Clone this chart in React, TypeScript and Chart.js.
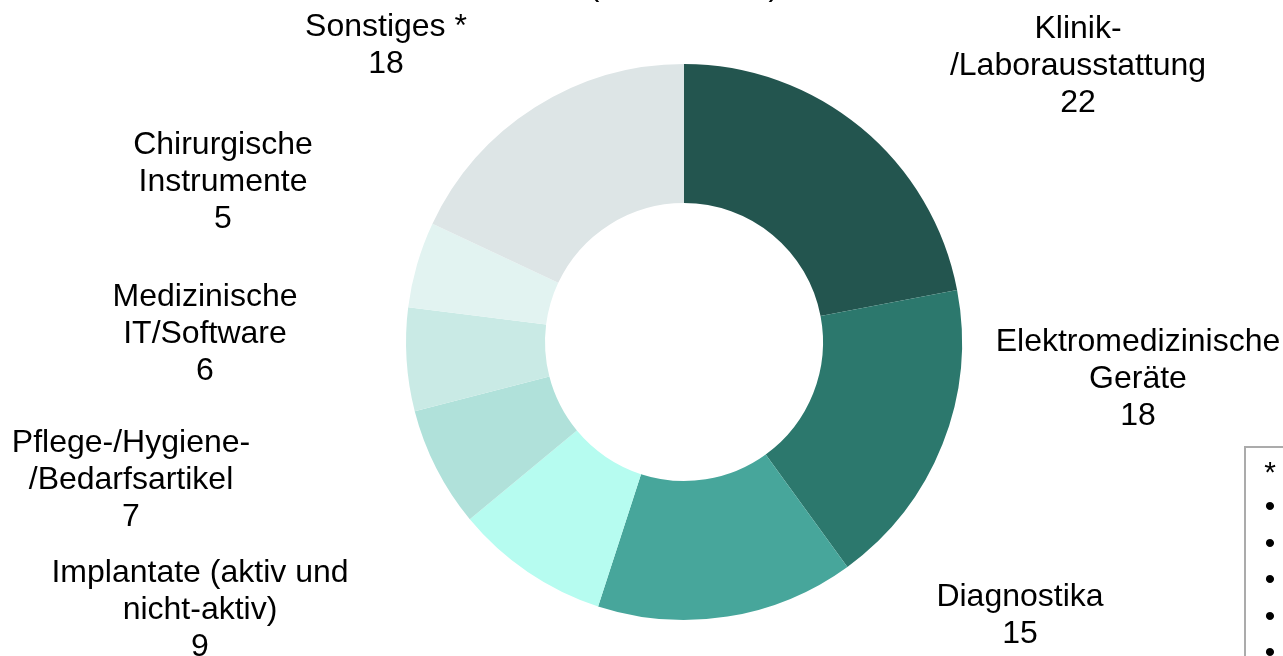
import React, { useEffect, useRef } from "react";
import { Chart, registerables } from "chart.js";

Chart.register(...registerables);

// ---- data ----
const CATEGORIES: string[][] = [
  ["Klinik-", "/Laborausstattung"],
  ["Elektromedizinische", "Geräte"],
  ["Diagnostika"],
  ["Implantate (aktiv und", "nicht-aktiv)"],
  ["Pflege-/Hygiene-", "/Bedarfsartikel"],
  ["Medizinische", "IT/Software"],
  ["Chirurgische", "Instrumente"],
  ["Sonstiges *"],
];
const VALUES: number[] = [22, 18, 15, 9, 7, 6, 5, 18];
const TITLE_LINE = "(Anteile in %)";
const FOOTNOTE_MARKS: string[] = ["*", "•", "•", "•", "•", "•"];

// ---- styles / layout ----
const COLORS = [
  "#23554f",
  "#2c786d",
  "#47a69b",
  "#b6fcf0",
  "#b0e1da",
  "#c9eae5",
  "#e2f3f1",
  "#dde5e6",
];
// label block offsets from donut centre: [dx, first baseline dy]
const LABEL_OFFSETS: [number, number][] = [
  [394, -304],
  [454, 9],
  [336, 264],
  [-484, 240],
  [-553, 110],
  [-479, -36],
  [-461, -188],
  [-298, -306],
];
const FONT = "32px 'Liberation Sans', Arial, sans-serif";
const LINE_H = 37;

const labelPlugin = {
  id: "outerLabels",
  afterDraw(chart: any) {
    const ctx = chart.ctx;
    const meta = chart.getDatasetMeta(0);
    const arc0 = meta.data[0];
    if (!arc0) return;
    const cx = arc0.x;
    const cy = arc0.y;
    ctx.save();
    ctx.fillStyle = "#000";
    ctx.font = FONT;
    ctx.textAlign = "center";
    ctx.textBaseline = "alphabetic";
    const labels = chart.data.labels as string[][];
    const data = chart.data.datasets[0].data as number[];
    labels.forEach((lines, i) => {
      const [dx, dy] = LABEL_OFFSETS[i];
      const all = [...lines, String(data[i])];
      all.forEach((t, j) => {
        ctx.fillText(t, cx + dx, cy + dy + j * LINE_H);
      });
    });
    // title (mostly above the visible area)
    ctx.fillText(TITLE_LINE, cx, -5);
    // footnote box
    ctx.strokeStyle = "#ababab";
    ctx.lineWidth = 2;
    ctx.strokeRect(1245, 447, 200, 400);
    ctx.font = "30px 'Liberation Sans', Arial, sans-serif";
    ctx.textBaseline = "middle";
    FOOTNOTE_MARKS.forEach((m, j) => {
      const y = j === 0 ? 474 : 508 + (j - 1) * 36.5;
      ctx.fillText(m, 1270, y);
    });
    ctx.restore();
  },
};

export default function App() {
  const ref = useRef<HTMLCanvasElement | null>(null);
  useEffect(() => {
    if (!ref.current) return;
    const chart = new Chart(ref.current, {
      type: "doughnut",
      data: {
        labels: CATEGORIES as any,
        datasets: [
          {
            data: VALUES,
            backgroundColor: COLORS,
            borderWidth: 0,
          },
        ],
      },
      options: {
        animation: false,
        responsive: true,
        maintainAspectRatio: false,
        cutout: "50%",
        layout: { padding: { left: 406, right: 321, top: 64, bottom: 36 } },
        plugins: {
          legend: { display: false },
          tooltip: { enabled: false },
          title: { display: false },
        },
      },
      plugins: [labelPlugin],
    });
    return () => chart.destroy();
  }, []);
  return (
    <div
      style={{
        position: "absolute",
        left: 0,
        top: 0,
        width: 1283,
        height: 656,
        background: "#fff",
        overflow: "hidden",
      }}
    >
      <canvas ref={ref} />
    </div>
  );
}
